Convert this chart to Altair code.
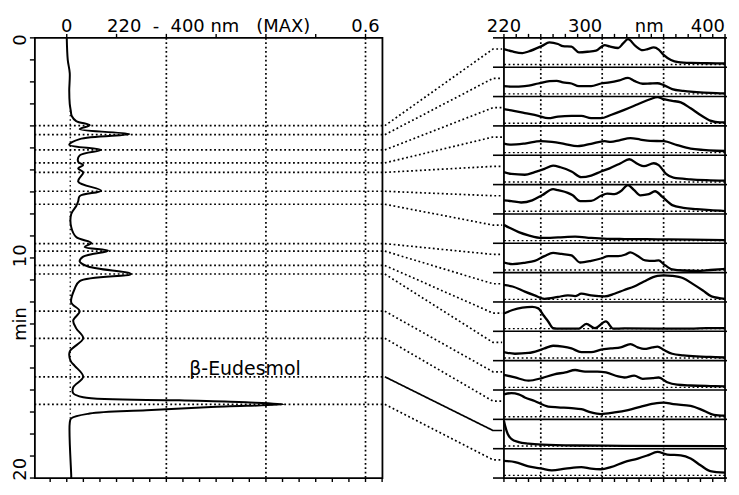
import altair as alt
import pandas as pd

FONT = "DejaVu Sans"
NB = "\u00a0"

# ---------------- chromatogram (left panel) ----------------
chrom_t = [0.0, 1.0, 1.6, 2.4, 3.0, 3.3, 3.55, 3.78, 3.97, 4.15, 4.37, 4.6, 4.86, 5.09, 5.34,
           5.63, 5.78, 5.93, 6.11, 6.53, 6.94, 7.19, 7.42, 7.64, 8.0, 8.6, 9.05, 9.32, 9.5, 9.67,
           9.94, 10.16, 10.39, 10.73, 11.05, 11.4, 12.02, 12.42, 12.84, 13.2, 13.65, 14.25, 14.69,
           14.9, 15.4, 15.88, 16.15, 16.33, 16.47, 16.56, 16.65, 16.77, 16.92, 17.07, 17.29, 17.5,
           19.9, 20.0]
chrom_abs = [0.0, 0.002, 0.006, 0.005, 0.006, 0.008, 0.010, 0.019, 0.046, 0.026, 0.126, 0.026,
             0.005, 0.069, 0.026, 0.023, 0.033, 0.023, 0.033, 0.023, 0.069, 0.026, 0.023, 0.019,
             0.009, 0.009, 0.019, 0.049, 0.036, 0.083, 0.033, 0.026, 0.043, 0.129, 0.026, 0.016,
             0.009, 0.026, 0.013, 0.019, 0.033, 0.006, 0.008, 0.016, 0.033, 0.013, 0.013, 0.033,
             0.226, 0.36, 0.436, 0.29, 0.16, 0.046, 0.009, 0.006, 0.009, 0.009]
marker_t = [3.99, 4.40, 5.09, 5.68, 6.11, 6.97, 7.56, 9.35, 9.69, 10.34, 10.73, 12.42, 13.65,
            15.40, 16.65]
solid_connector = 13
eudesmol_label = "β-Eudesmol"
eudesmol_abs, eudesmol_t = 0.246, 15.33
left_grid = [0.2, 0.4, 0.6]
left_top_ticks = [0, 0.1, 0.2, 0.3, 0.4, 0.5, 0.6]
left_top_labels = ["0", "0.6"]
left_top_label_at = [0.0, 0.6]
left_title = "220" + NB * 2 + "-" + NB * 2 + "400 nm" + NB * 3 + "(MAX)"
left_bottom_ticks = [k / 30 for k in range(-1, 20)]
time_ticks = list(range(0, 21))
time_labels = ["0", "10", "20"]
time_label_at = [0.1, 9.9, 19.6]
time_title = "min"
time_title_at = 13.0

# ---------------- UV spectra (right panel), one list pair per row ----------------
nm0 = [220, 227, 235, 240, 251, 257, 264, 268, 275, 281, 288, 295, 302, 306, 313, 317, 321, 327, 333, 337, 342, 346, 350, 356, 362, 372, 385, 400]
v0 = [.58, .49, .43, .49, .70, .83, .77, .69, .67, .46, .48, .52, .73, .68, .62, .79, .95, .70, .54, .58, .64, .56, .36, .17, .09, .06, .05, .04]
nm1 = [220, 227, 237, 248, 257, 263, 268, 275, 281, 291, 299, 306, 314, 321, 326, 333, 339, 345, 350, 357, 366, 377, 388, 400]
v1 = [.29, .27, .29, .39, .48, .49, .43, .39, .29, .29, .39, .43, .51, .60, .49, .38, .39, .40, .33, .18, .11, .07, .04, .02]
nm2 = [220, 226, 237, 248, 256, 264, 275, 283, 291, 299, 307, 318, 329, 339, 345, 350, 357, 364, 372, 380, 388, 396, 400]
v2 = [.53, .48, .38, .28, .19, .25, .28, .28, .19, .19, .31, .50, .71, .90, .98, .90, .84, .78, .56, .31, .10, .03, .03]
nm3 = [220, 226, 237, 250, 259, 269, 280, 291, 302, 307, 314, 323, 331, 339, 350, 361, 372, 382, 393, 400]
v3 = [.34, .30, .34, .43, .40, .33, .24, .33, .43, .40, .46, .54, .49, .44, .43, .28, .15, .10, .07, .06]
nm4 = [220, 226, 237, 245, 253, 260, 266, 275, 283, 291, 299, 306, 315, 322, 329, 334, 342, 346, 352, 358, 372, 385, 400]
v4 = [.37, .30, .27, .37, .49, .61, .55, .39, .18, .24, .39, .51, .70, .85, .67, .59, .70, .63, .30, .16, .10, .07, .05]
nm5 = [220, 226, 234, 243, 251, 260, 264, 272, 276, 282, 291, 299, 304, 310, 315, 321, 326, 331, 338, 343, 349, 357, 366, 377, 388, 400]
v5 = [.41, .38, .33, .41, .60, .83, .79, .69, .60, .38, .39, .58, .66, .64, .75, .98, .79, .60, .64, .75, .54, .23, .13, .08, .04, .01]
nm6 = [220, 225, 232, 240, 251, 264, 278, 291, 304, 318, 345, 372, 400]
v6 = [.59, .47, .32, .20, .10, .12, .15, .10, .07, .06, .05, .04, .02]
nm7 = [220, 227, 237, 245, 253, 260, 267, 275, 282, 291, 299, 305, 313, 319, 323, 329, 335, 342, 346, 350, 357, 366, 377, 388, 400]
v7 = [.28, .22, .27, .34, .52, .64, .60, .55, .28, .34, .43, .52, .52, .58, .66, .52, .36, .34, .36, .22, .02, -.02, -.03, .0, .04]
nm8 = [220, 227, 237, 245, 253, 264, 272, 278, 283, 291, 302, 310, 318, 326, 334, 345, 350, 357, 366, 374, 382, 389, 400]
v8 = [.54, .48, .29, .15, .02, .09, .15, .12, .21, .15, .11, .21, .35, .48, .67, .88, .90, .88, .79, .57, .33, .11, .02]
nm9 = [220, 227, 235, 243, 248, 252, 256, 260, 263, 281, 287, 294, 303, 309, 318, 372, 385, 400]
v9 = [.57, .70, .79, .82, .76, .51, .27, .02, .0, .0, .18, .02, .27, .0, .01, .0, .02, .02]
nm10 = [220, 229, 240, 248, 253, 260, 268, 275, 283, 291, 299, 307, 315, 323, 329, 334, 341, 345, 350, 357, 366, 377, 388, 400]
v10 = [.22, .16, .19, .28, .36, .46, .43, .36, .22, .22, .31, .36, .40, .52, .40, .34, .40, .43, .31, .16, .10, .06, .04, .02]
nm11 = [220, 229, 240, 251, 261, 270, 278, 286, 296, 303, 313, 318, 326, 333, 341, 346, 353, 361, 372, 388, 400]
v11 = [.47, .37, .25, .35, .49, .56, .65, .59, .59, .56, .41, .37, .44, .32, .35, .37, .19, .10, .07, .05, .04]
nm12 = [220, 226, 232, 237, 245, 256, 264, 275, 283, 291, 299, 310, 321, 331, 342, 350, 358, 372, 383, 391, 400]
v12 = [.84, .88, .84, .72, .59, .38, .35, .32, .28, .16, .10, .16, .25, .37, .49, .53, .47, .41, .22, .07, .04]
nm13 = [220, 221, 223, 226, 232, 240, 251, 278, 318, 400]
v13 = [.95, .75, .46, .27, .15, .09, .05, .02, .01, .0]
nm14 = [220, 229, 240, 251, 259, 270, 283, 291, 299, 307, 318, 329, 337, 345, 353, 364, 372, 380, 388, 400]
v14 = [.54, .50, .34, .25, .19, .25, .31, .25, .23, .31, .50, .63, .75, .88, .78, .75, .63, .38, .16, .10]

spectra_nm = [nm0, nm1, nm2, nm3, nm4, nm5, nm6, nm7, nm8, nm9, nm10, nm11, nm12, nm13, nm14]
spectra_v = [v0, v1, v2, v3, v4, v5, v6, v7, v8, v9, v10, v11, v12, v13, v14]
nm_grid = [250, 300, 350]
nm_ticks = list(range(220, 401, 10))
nm_label_center = ["220"]
nm_label_center_at = [220]
nm_label_right = ["300", "nm", "400"]
nm_label_right_at = [300, 350, 400]

# ---------------- layout ----------------
LEFT_W, LEFT_H = 349, 442
MID_W = 122
RIGHT_W, RIGHT_H = 222, 442
N_ROWS = len(spectra_nm)
ZERO = 0.91          # zero (dotted) level inside each row, fraction of row height from its top
CONN_END = 0.38      # where a connector meets its row
DOT = [1.8, 2.6]
FRAME = 1.8
FS = 18
YLAB_GAP = 14        # distance (px) from the time axis to the centre of its labels

X_MIN, X_MAX = -0.064, 0.634
PX_ABS = LEFT_W / (X_MAX - X_MIN)          # pixels per absorbance unit
PX_MIN = LEFT_H / 20.0                      # pixels per minute
PX_NM = RIGHT_W / 180.0                     # pixels per nm
PX_ROW = RIGHT_H / N_ROWS                   # pixels per spectrum row

xl = alt.Scale(domain=[X_MIN, X_MAX], nice=False, zero=False)
yl = alt.Scale(domain=[0, 20], reverse=True, nice=False, zero=False)
xr = alt.Scale(domain=[220, 400], nice=False, zero=False)
yr = alt.Scale(domain=[0, N_ROWS], reverse=True, nice=False, zero=False)


def lx(field):
    return alt.X(field, type="quantitative", scale=xl, axis=None)


def ly(field):
    return alt.Y(field, type="quantitative", scale=yl, axis=None)


def rx(field):
    return alt.X(field, type="quantitative", scale=xr, axis=None)


def ry(field):
    return alt.Y(field, type="quantitative", scale=yr, axis=None)


# ---- left panel data frames
chrom_df = pd.DataFrame({"abs": chrom_abs, "t": chrom_t})
marker_df = pd.DataFrame({"t": marker_t})
grid_df = pd.DataFrame({"abs": left_grid})
base_df = pd.DataFrame({"abs": [0.007], "t": [3.3], "t2": [17.4]})
label_df = pd.DataFrame({"abs": [eudesmol_abs], "t": [eudesmol_t], "txt": [eudesmol_label]})
tick_up = 4 / PX_MIN
lbt_df = pd.DataFrame({"abs": left_bottom_ticks, "t": 20.0, "t2": 20.0 + tick_up})
ltt_df = pd.DataFrame({"abs": left_top_ticks, "t": 0.0, "t2": -tick_up})
ltl_df = pd.DataFrame({"abs": left_top_label_at, "t": -6 / PX_MIN, "txt": left_top_labels})
ltitle_df = pd.DataFrame({"abs": [(X_MIN + X_MAX) / 2], "t": [-6 / PX_MIN], "txt": [left_title]})
lyt_df = pd.DataFrame({"t": time_ticks, "abs": X_MIN, "abs2": X_MIN - 5 / PX_ABS})
lyl_df = pd.DataFrame({"t": time_label_at, "abs": X_MIN - YLAB_GAP / PX_ABS, "txt": time_labels})
lytitle_df = pd.DataFrame({"t": [time_title_at], "abs": [X_MIN - YLAB_GAP / PX_ABS],
                           "txt": [time_title]})

dotted = dict(color="black", strokeDash=DOT, strokeWidth=1.7)
solid = dict(color="black", strokeWidth=1.4)
txt = dict(font=FONT, fontSize=FS, color="black")

l_grid = alt.Chart(grid_df).mark_rule(**dotted).encode(x=lx("abs"))
l_markers = alt.Chart(marker_df).mark_rule(**dotted).encode(y=ly("t"))
l_base = alt.Chart(base_df).mark_rule(color="black", strokeDash=[1.4, 3], strokeWidth=1.3).encode(
    x=lx("abs"), y=ly("t"), y2="t2:Q")
l_bticks = alt.Chart(lbt_df).mark_rule(**solid).encode(x=lx("abs"), y=ly("t"), y2="t2:Q")
l_tticks = alt.Chart(ltt_df).mark_rule(**solid).encode(x=lx("abs"), y=ly("t"), y2="t2:Q")
l_yticks = alt.Chart(lyt_df).mark_rule(**solid).encode(x=lx("abs"), x2="abs2:Q", y=ly("t"))
l_tlabels = alt.Chart(ltl_df).mark_text(align="center", baseline="alphabetic", **txt).encode(
    x=lx("abs"), y=ly("t"), text="txt:N")
l_title = alt.Chart(ltitle_df).mark_text(align="center", baseline="alphabetic", **txt).encode(
    x=lx("abs"), y=ly("t"), text="txt:N")
l_ylabels = alt.Chart(lyl_df).mark_text(align="center", baseline="middle", angle=270, **txt).encode(
    x=lx("abs"), y=ly("t"), text="txt:N")
l_ytitle = alt.Chart(lytitle_df).mark_text(align="center", baseline="middle", angle=270, **txt).encode(
    x=lx("abs"), y=ly("t"), text="txt:N")
l_trace = alt.Chart(chrom_df).mark_line(color="black", strokeWidth=2,
                                        interpolate="catmull-rom").encode(
    x=lx("abs"), y=ly("t"), order="t:Q")
l_label = alt.Chart(label_df).mark_text(align="left", baseline="alphabetic", font=FONT,
                                        fontSize=19, color="black").encode(
    x=lx("abs"), y=ly("t"), text="txt:N")

left = alt.layer(l_grid, l_markers, l_base, l_bticks, l_tticks, l_yticks, l_tlabels, l_title,
                 l_ylabels, l_ytitle, l_trace, l_label).properties(
    width=LEFT_W, height=LEFT_H, view=alt.ViewBackground(stroke="black", strokeWidth=FRAME))

# ---------------- connectors ----------------
scale_ratio = PX_ROW / PX_MIN
conn_rows = []
for i, t0 in enumerate(marker_t):
    t_end = (i + CONN_END) * scale_ratio
    style = "solid" if i == solid_connector else "dot"
    for step, (cx, ct) in enumerate([(0.02, t0), (0.91, t_end), (0.985, t_end)]):
        conn_rows.append({"conn": i, "step": step, "cx": cx, "t": ct, "style": style})
conn_df = pd.DataFrame(conn_rows)

mid = alt.Chart(conn_df).mark_line(color="black", strokeWidth=1.7).encode(
    x=alt.X("cx:Q", scale=alt.Scale(domain=[0, 1]), axis=None),
    y=alt.Y("t:Q", scale=alt.Scale(domain=[0, 20], reverse=True), axis=None),
    detail="conn:N", order="step:Q",
    strokeDash=alt.StrokeDash("style:N", scale=alt.Scale(domain=["dot", "solid"],
                                                         range=[DOT, [1, 0]]), legend=None),
).properties(width=MID_W, height=LEFT_H, view=alt.ViewBackground(strokeWidth=0))

# ---------------- spectra panel ----------------
spec_rows = []
for k, (nms, vs) in enumerate(zip(spectra_nm, spectra_v)):
    for n, v in zip(nms, vs):
        spec_rows.append({"row": k, "nm": n, "y": k + ZERO - v * ZERO})
spec_df = pd.DataFrame(spec_rows)
rowline_df = pd.DataFrame({"y": list(range(1, N_ROWS))})
zero_df = pd.DataFrame({"y": [k + ZERO for k in range(N_ROWS)]})
vgrid_df = pd.DataFrame({"nm": nm_grid})
rbt_df = pd.DataFrame({"nm": nm_ticks, "y": float(N_ROWS), "y2": N_ROWS + 4 / PX_ROW})
rtt_df = pd.DataFrame({"nm": nm_ticks, "y": 0.0, "y2": -4 / PX_ROW})
rlt_df = pd.DataFrame({"y": list(range(0, N_ROWS + 1)), "nm": 220.0, "nm2": 220 - 11 / PX_NM})
rrt_df = pd.DataFrame({"y": list(range(0, N_ROWS + 1)), "nm": 400.0, "nm2": 400 + 2 / PX_NM})
rlc_df = pd.DataFrame({"nm": nm_label_center_at, "y": -6 / PX_ROW, "txt": nm_label_center})
rlr_df = pd.DataFrame({"nm": nm_label_right_at, "y": -6 / PX_ROW, "txt": nm_label_right})

r_vgrid = alt.Chart(vgrid_df).mark_rule(**dotted).encode(x=rx("nm"))
r_rows = alt.Chart(rowline_df).mark_rule(color="black", strokeWidth=1.6).encode(y=ry("y"))
r_zero = alt.Chart(zero_df).mark_rule(color="black", strokeDash=DOT, strokeWidth=1.4).encode(y=ry("y"))
r_bticks = alt.Chart(rbt_df).mark_rule(**solid).encode(x=rx("nm"), y=ry("y"), y2="y2:Q")
r_tticks = alt.Chart(rtt_df).mark_rule(**solid).encode(x=rx("nm"), y=ry("y"), y2="y2:Q")
r_lticks = alt.Chart(rlt_df).mark_rule(color="black", strokeWidth=1.6).encode(
    x=rx("nm"), x2="nm2:Q", y=ry("y"))
r_rticks = alt.Chart(rrt_df).mark_rule(color="black", strokeWidth=1.6).encode(
    x=rx("nm"), x2="nm2:Q", y=ry("y"))
r_lab_c = alt.Chart(rlc_df).mark_text(align="center", baseline="alphabetic", **txt).encode(
    x=rx("nm"), y=ry("y"), text="txt:N")
r_lab_r = alt.Chart(rlr_df).mark_text(align="right", baseline="alphabetic", **txt).encode(
    x=rx("nm"), y=ry("y"), text="txt:N")
r_spec = alt.Chart(spec_df).mark_line(color="black", strokeWidth=2.3, interpolate="monotone").encode(
    x=rx("nm"), y=ry("y"), detail="row:N")

right = alt.layer(r_vgrid, r_rows, r_zero, r_bticks, r_tticks, r_lticks, r_rticks, r_lab_c,
                  r_lab_r, r_spec).properties(
    width=RIGHT_W, height=RIGHT_H, view=alt.ViewBackground(stroke="black", strokeWidth=FRAME))

chart = alt.hconcat(left, mid, right, spacing=0, bounds="flush").properties(
    padding={"left": 3, "top": 8, "right": 0, "bottom": 0}
).configure(background="white", font=FONT)

chart.save("out.html", embed_options={"renderer": "svg", "actions": False})
